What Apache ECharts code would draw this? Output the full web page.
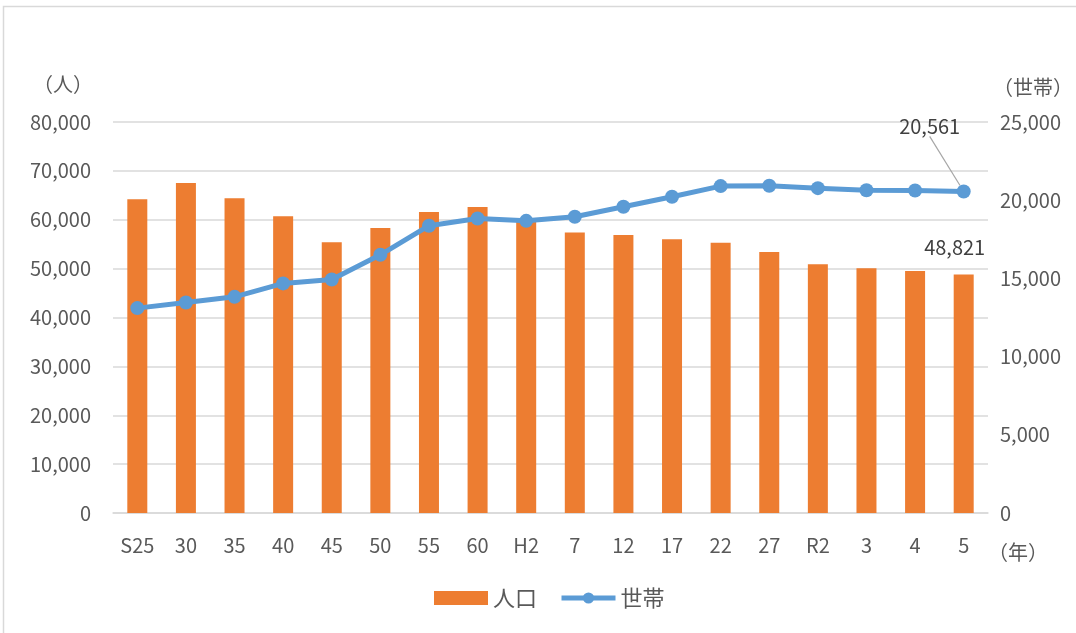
<!DOCTYPE html>
<html><head><meta charset="utf-8">
<script src="https://cdn.jsdelivr.net/npm/echarts@6/dist/echarts.min.js"></script>
<style>html,body{margin:0;padding:0;background:#fff}#c{width:1076px;height:633px}</style>
</head><body><div id="c"></div>
<script>
const categories = ['S25','30','35','40','45','50','55','60','H2','7','12','17','22','27','R2','3','4','5'];
const population = [64200,67500,64400,60700,55400,58300,61600,62600,59600,57400,56900,56000,55300,53400,50900,50100,49500,48821];
const households = [13100,13460,13820,14680,14930,16510,18370,18830,18680,18940,19580,20220,20900,20920,20770,20640,20620,20561];
const leftTicks = {min:0, max:80000, interval:10000};
const rightTicks = {min:0, max:25000, interval:5000};

const FONT = '"Noto Sans CJK JP", "Noto Sans", sans-serif';
const TXT = '#595959';
const FS = 20;
const fmt = v => Number(v).toLocaleString('en-US');
const last = categories.length - 1;

const chart = echarts.init(document.getElementById('c'));
chart.setOption({
  animation:false,
  textStyle:{fontFamily:FONT},
  grid:{left:113, right:88, top:122, bottom:120},
  graphic:[
    {type:'polyline', shape:{points:[[3.5,640],[3.5,6.5],[1080,6.5]]}, style:{stroke:'#D9D9D9', lineWidth:1.5, fill:null}},
    {type:'text', left:33, top:74, style:{text:'（人）', font:FS+'px '+FONT, fill:TXT}},
    {type:'text', left:993, top:77, style:{text:'（世帯）', font:FS+'px '+FONT, fill:TXT}},
    {type:'text', left:988, top:542, style:{text:'（年）', font:FS+'px '+FONT, fill:TXT}}
  ],
  legend:{
    bottom:19, left:429, itemWidth:54, itemHeight:14, itemGap:22,
    textStyle:{color:TXT, fontSize:22, fontFamily:FONT},
    data:[{name:'人口', icon:'rect'}, {name:'世帯', lineStyle:{width:5, color:'#5B9BD5'}, itemStyle:{color:'#5B9BD5'}}]
  },
  xAxis:{
    type:'category', data:categories,
    axisLine:{lineStyle:{color:'#D9D9D9', width:1.5}},
    axisTick:{show:false},
    axisLabel:{color:TXT, fontSize:FS, margin:22, fontFamily:FONT}
  },
  yAxis:[
    {type:'value', min:leftTicks.min, max:leftTicks.max, interval:leftTicks.interval,
     axisLabel:{color:TXT, fontSize:FS, margin:22, formatter:fmt, fontFamily:FONT},
     splitLine:{lineStyle:{color:'#D9D9D9', width:1.5}},
     axisLine:{show:false}, axisTick:{show:false}},
    {type:'value', min:rightTicks.min, max:rightTicks.max, interval:rightTicks.interval,
     axisLabel:{color:TXT, fontSize:FS, margin:12, formatter:fmt, fontFamily:FONT},
     splitLine:{show:false}, axisLine:{show:false}, axisTick:{show:false}}
  ],
  series:[
    {name:'人口', type:'bar', yAxisIndex:0, barWidth:20,
     itemStyle:{color:'#ED7D31'},
     data:population.map((v,i)=> i===last ? {value:v, label:{show:true, position:'top', offset:[-9,-12], color:'#404040', fontSize:FS, fontFamily:FONT, formatter:p=>fmt(p.value)}} : v)},
    {name:'世帯', type:'line', yAxisIndex:1,
     lineStyle:{color:'#5B9BD5', width:5},
     itemStyle:{color:'#5B9BD5'},
     symbol:'circle', symbolSize:14,
     labelLine:{show:true, lineStyle:{color:'#A6A6A6', width:1.2}},
     labelLayout:p => p.dataIndex === last ? {dx:-34, dy:-43} : {},
     data:households.map((v,i)=> i===last ? {value:v,
        label:{show:true, position:'top', color:'#404040', fontSize:FS, fontFamily:FONT, formatter:p=>fmt(p.value)}} : v)}
  ]
});
</script></body></html>
